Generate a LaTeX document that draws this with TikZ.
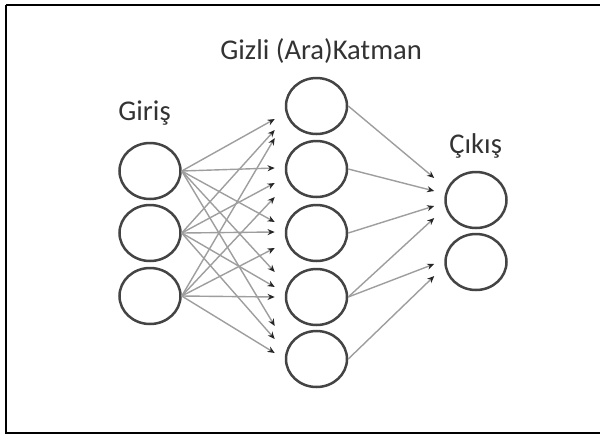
\documentclass[tikz,border=0pt]{standalone}
\usepackage{fontspec}
\setmainfont{Carlito}
\usetikzlibrary{arrows.meta,calc,shapes.geometric}
\definecolor{ringgray}{HTML}{444444}
\definecolor{linkgray}{HTML}{9E9E9E}
\definecolor{tipgray}{HTML}{262626}
\definecolor{textgray}{HTML}{333333}
\begin{document}
\begin{tikzpicture}[x=0.5pt,y=-0.5pt,
  neuron/.style={ellipse, draw=ringgray, line width=1.25pt, inner sep=0pt,
    minimum width=30.5pt, minimum height=28pt},
  link/.style={draw=linkgray, line width=0.7pt,
    -{Stealth[length=3.6pt,width=3pt,color=tipgray]}},
  caption/.style={anchor=base west, inner sep=0pt, text=textgray,
    font=\fontsize{14.3}{16}\selectfont}]
\useasboundingbox (0,0) rectangle (600,435);
\fill[white] (0,0) rectangle (600,435);
% outer frame
\draw[line width=1pt, black] (6,4.5) -- (600,4.5);
\draw[line width=1pt, black] (6,4.5) -- (6,433) -- (600,433);

% layer captions
\node[caption] (tGiris) at (118,120) {Giriş};
\node[caption] (tGizli) at (220,59) {Gizli (Ara)Katman};
\node[caption] (tCikis) at (449,153) {Çıkış};

% input layer
\node[neuron] (i1) at (150,171) {};
\node[neuron] (i2) at (150,233) {};
\node[neuron] (i3) at (150,296) {};
% hidden layer
\node[neuron] (h1) at (316.5,106) {};
\node[neuron] (h2) at (316.5,169) {};
\node[neuron] (h3) at (316.5,233) {};
\node[neuron] (h4) at (316.5,297) {};
\node[neuron] (h5) at (316.5,359) {};
% output layer
\node[neuron] (o1) at (476,200) {};
\node[neuron] (o2) at (476,262) {};

% input -> hidden, every pair
\foreach \h/\a/\b/\c in {1/13/24/32, 2/-1/14/28, 3/-11/-1/15, 4/-25/-10/0, 5/-33/-20/-6}{
  \draw[link] (i1.east) -- ($(h\h.west)+(-10,\a)$);
  \draw[link] (i2.east) -- ($(h\h.west)+(-10,\b)$);
  \draw[link] (i3.east) -- ($(h\h.west)+(-10,\c)$);
}

% hidden -> output
\draw[link] (h1.east) -- ($(o1.west)+(-10,-22)$);
\draw[link] (h2.east) -- ($(o1.west)+(-10,-9)$);
\draw[link] (h3.east) -- ($(o1.west)+(-10,6)$);
\draw[link] (h4.east) -- ($(o1.west)+(-10,18)$);
\draw[link] (h4.east) -- ($(o2.west)+(-10,2)$);
\draw[link] (h5.east) -- ($(o2.west)+(-10,14)$);
\end{tikzpicture}
\end{document}
